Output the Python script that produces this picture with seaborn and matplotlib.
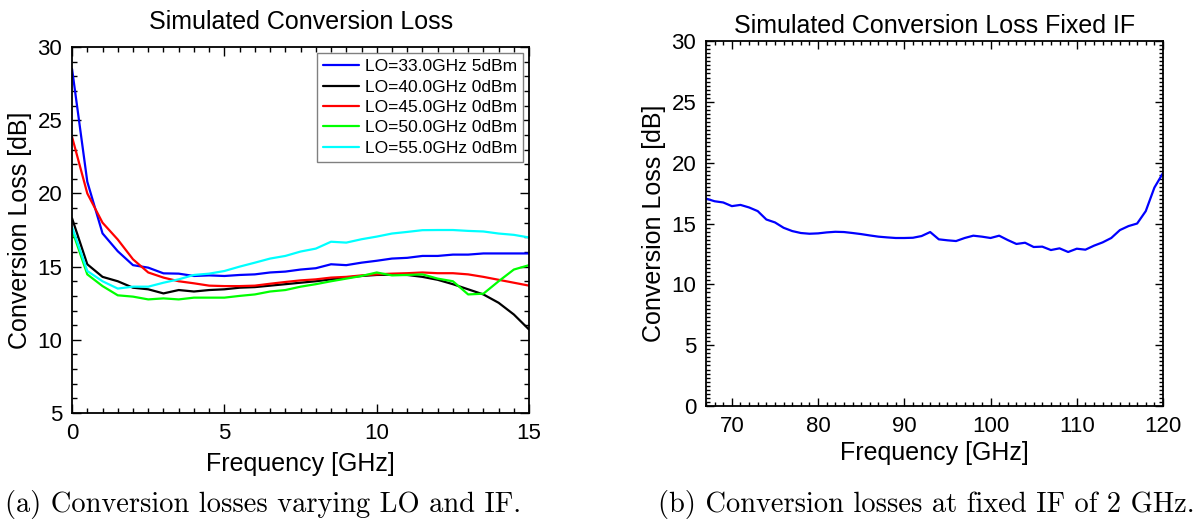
import numpy as np
import pandas as pd
import matplotlib
matplotlib.use("Agg")
import matplotlib.pyplot as plt
from matplotlib.ticker import MultipleLocator
import seaborn as sns

# IF sweep (GHz) and conversion loss (dB) for each LO setting
if_freq = [0.0, 0.5, 1.0, 1.5, 2.0, 2.5, 3.0, 3.5, 4.0, 4.5, 5.0, 5.5, 6.0, 6.5, 7.0,
           7.5, 8.0, 8.5, 9.0, 9.5, 10.0, 10.5, 11.0, 11.5, 12.0, 12.5, 13.0, 13.5,
           14.0, 14.5, 15.0]
loss_lo33 = [28.5, 20.8, 17.27, 16.05, 15.1, 14.93, 14.54, 14.52, 14.36, 14.4, 14.36,
             14.43, 14.47, 14.6, 14.66, 14.8, 14.89, 15.16, 15.1, 15.27, 15.4, 15.55,
             15.6, 15.73, 15.73, 15.82, 15.82, 15.9, 15.9, 15.9, 15.9]
loss_lo40 = [18.3, 15.16, 14.3, 14.0, 13.56, 13.45, 13.17, 13.4, 13.3, 13.4, 13.45,
             13.56, 13.6, 13.7, 13.8, 13.9, 14.0, 14.13, 14.25, 14.36, 14.43, 14.45,
             14.43, 14.3, 14.1, 13.8, 13.45, 13.1, 12.53, 11.73, 10.7]
loss_lo45 = [23.86, 20.0, 18.0, 16.85, 15.5, 14.6, 14.25, 14.0, 13.86, 13.7, 13.67,
             13.67, 13.7, 13.83, 13.95, 14.06, 14.13, 14.25, 14.3, 14.4, 14.47, 14.52,
             14.55, 14.6, 14.55, 14.55, 14.47, 14.3, 14.1, 13.9, 13.7]
loss_lo50 = [17.5, 14.47, 13.67, 13.04, 12.95, 12.76, 12.83, 12.76, 12.88, 12.88, 12.88,
             13.0, 13.1, 13.3, 13.4, 13.63, 13.8, 14.0, 14.18, 14.36, 14.6, 14.4,
             14.43, 14.47, 14.18, 14.0, 13.1, 13.15, 14.0, 14.8, 15.1]
loss_lo55 = [17.7, 14.7, 14.0, 13.5, 13.63, 13.63, 13.9, 14.13, 14.43, 14.52, 14.7,
             15.0, 15.27, 15.55, 15.73, 16.03, 16.23, 16.7, 16.64, 16.87, 17.05, 17.26,
             17.37, 17.49, 17.5, 17.5, 17.44, 17.4, 17.26, 17.17, 16.99]
lo_labels = ["LO=33.0GHz 5dBm", "LO=40.0GHz 0dBm", "LO=45.0GHz 0dBm",
             "LO=50.0GHz 0dBm", "LO=55.0GHz 0dBm"]
lo_colors = ["#0000ff", "#000000", "#ff0000", "#00ff00", "#00ffff"]

# RF sweep (GHz) at a fixed IF of 2 GHz
rf_freq = [67, 68, 69, 70, 71, 72, 73, 74, 75, 76, 77, 78, 79, 80, 81, 82, 83, 84,
           85, 86, 87, 88, 89, 90, 91, 92, 93, 94, 95, 96, 97, 98, 99, 100, 101, 102,
           103, 104, 105, 106, 107, 108, 109, 110, 111, 112, 113, 114, 115, 116, 117,
           118, 119, 120]
loss_fixed_if = [17.05, 16.83, 16.73, 16.43, 16.53, 16.32, 16.02, 15.33, 15.09, 14.65,
                 14.38, 14.22, 14.16, 14.19, 14.27, 14.32, 14.30, 14.22, 14.13, 14.02,
                 13.92, 13.86, 13.81, 13.81, 13.83, 13.97, 14.30, 13.70, 13.62, 13.56,
                 13.81, 14.00, 13.92, 13.81, 14.00, 13.64, 13.32, 13.42, 13.07, 13.10,
                 12.82, 12.96, 12.66, 12.93, 12.85, 13.18, 13.45, 13.81, 14.46, 14.79,
                 15.00, 16.02, 17.95, 19.15]

sns.set_theme(style="white")
plt.rcParams["font.family"] = ["Liberation Sans", "DejaVu Sans"]
plt.rcParams.update({
    "text.color": "black",
    "axes.labelcolor": "black",
    "xtick.color": "black",
    "ytick.color": "black",
})

fig = plt.figure(figsize=(11.97, 5.22), dpi=100)
ax1 = fig.add_axes([0.0602, 0.2088, 0.3818, 0.7011])
ax2 = fig.add_axes([0.5898, 0.2222, 0.3818, 0.6992])

# Left panel: one curve per LO setting
df_if = pd.DataFrame({
    "Frequency": if_freq * 5,
    "Loss": loss_lo33 + loss_lo40 + loss_lo45 + loss_lo50 + loss_lo55,
    "LO": [lab for lab in lo_labels for _ in if_freq],
})
sns.lineplot(data=df_if, x="Frequency", y="Loss", hue="LO", hue_order=lo_labels,
             palette=lo_colors, linewidth=1.6, ax=ax1, legend=False, sort=False)
ax1.set_xlim(0, 15)
ax1.set_ylim(5, 30)
ax1.xaxis.set_major_locator(MultipleLocator(5))
ax1.xaxis.set_minor_locator(MultipleLocator(0.5))
ax1.yaxis.set_major_locator(MultipleLocator(5))
ax1.yaxis.set_minor_locator(MultipleLocator(1))
handles = [plt.Line2D([], [], color=c, lw=1.6) for c in lo_colors]
leg = ax1.legend(handles, lo_labels, loc="upper right", fontsize=12.5,
                 fancybox=False, framealpha=1, edgecolor="#808080",
                 borderpad=0.35, borderaxespad=0.35, handlelength=2.1,
                 handletextpad=0.3, labelspacing=0.3)
leg.get_frame().set_linewidth(1.0)
for t in leg.get_texts():
    t.set_color("black")
ax1.set_title("Simulated Conversion Loss", fontsize=18, pad=13)

# Right panel: fixed IF sweep over RF
sns.lineplot(x=rf_freq, y=loss_fixed_if, color="#0000ff", linewidth=1.6, ax=ax2)
ax2.set_xlim(67, 120)
ax2.set_ylim(0, 30)
ax2.xaxis.set_major_locator(MultipleLocator(10))
ax2.xaxis.set_minor_locator(MultipleLocator(1))
ax2.yaxis.set_major_locator(MultipleLocator(5))
ax2.yaxis.set_minor_locator(MultipleLocator(1 / 3))
ax2.set_title("Simulated Conversion Loss Fixed IF", fontsize=18, pad=6)

for ax, maj, mnr, xpad in ((ax1, 6.5, 3.5, 6), (ax2, 5.5, 2.6, 3)):
    for s in ax.spines.values():
        s.set_visible(True)
        s.set_color("black")
        s.set_linewidth(1.3)
    ax.tick_params(which="both", direction="in", top=True, right=True,
                   bottom=True, left=True, color="black", width=1.0)
    ax.tick_params(which="major", length=maj, labelsize=16, pad=7)
    ax.tick_params(which="minor", length=mnr)
    ax.set_xlabel("Frequency [GHz]", fontsize=18, labelpad=xpad)
    ax.set_ylabel("Conversion Loss [dB]", fontsize=18, labelpad=4)

# Sub-figure captions
fig.text(0.004, 0.033, "(a) Conversion losses varying LO and IF.",
         family="cmr10", fontsize=20.5, ha="left", va="center")
fig.text(0.998, 0.033, "(b) Conversion losses at fixed IF of 2 GHz.",
         family="cmr10", fontsize=20.5, ha="right", va="center")

fig.savefig("out.png", dpi=100)
